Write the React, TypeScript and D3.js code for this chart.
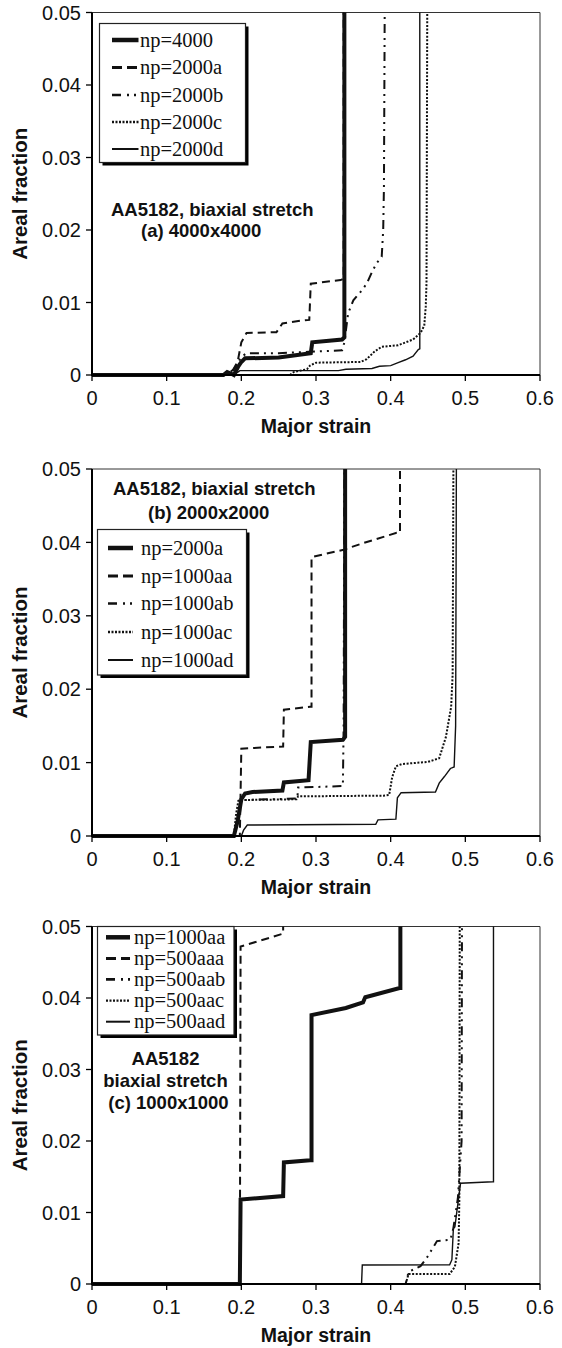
import React from "react";
import * as d3 from "d3";

type Pt = [number, number];

// ---------- tick values ----------
const X_TICKS = [0, 0.1, 0.2, 0.3, 0.4, 0.5, 0.6];
const Y_TICKS = [0, 0.01, 0.02, 0.03, 0.04, 0.05];
const X_TITLE = "Major strain";
const Y_TITLE = "Areal fraction";

// ---------- panel (a) 4000x4000 ----------
const A_LABELS = ["np=4000", "np=2000a", "np=2000b", "np=2000c", "np=2000d"];
const A_NOTE = ["AA5182, biaxial stretch", "(a) 4000x4000"];
const A_NP4000: Pt[] = [[0, 0], [0.176, 0], [0.181, 0.0004], [0.186, 0.0002], [0.19, 0], [0.196, 0.0012], [0.2, 0.0018], [0.205, 0.0023], [0.25, 0.0024], [0.27, 0.0027], [0.293, 0.003], [0.295, 0.0045], [0.335, 0.0049], [0.338, 0.0052], [0.338, 0.05]];
const A_NP2000A: Pt[] = [[0, 0], [0.185, 0], [0.195, 0.0018], [0.2, 0.0045], [0.207, 0.0058], [0.247, 0.0059], [0.255, 0.0071], [0.28, 0.0075], [0.291, 0.0076], [0.293, 0.0126], [0.333, 0.0131], [0.337, 0.0133], [0.337, 0.05]];
const A_NP2000B: Pt[] = [[0, 0], [0.18, 0], [0.19, 0.0008], [0.2, 0.0025], [0.207, 0.003], [0.25, 0.003], [0.29, 0.0032], [0.335, 0.0034], [0.338, 0.0045], [0.343, 0.0085], [0.35, 0.0103], [0.36, 0.0115], [0.368, 0.0126], [0.375, 0.0142], [0.381, 0.0154], [0.388, 0.0163], [0.39, 0.02], [0.391, 0.026], [0.392, 0.05]];
const A_NP2000C: Pt[] = [[0, 0], [0.265, 0], [0.27, 0.0004], [0.288, 0.0008], [0.292, 0.0013], [0.3, 0.0017], [0.36, 0.0018], [0.368, 0.0022], [0.378, 0.0032], [0.388, 0.0039], [0.41, 0.0041], [0.42, 0.0045], [0.43, 0.0049], [0.44, 0.0058], [0.445, 0.0068], [0.447, 0.0095], [0.448, 0.0127], [0.449, 0.05]];
const A_NP2000D: Pt[] = [[0, 0], [0.19, 0], [0.198, 0.0006], [0.33, 0.0006], [0.34, 0.0008], [0.375, 0.0009], [0.385, 0.0012], [0.4, 0.0013], [0.41, 0.0017], [0.42, 0.0021], [0.43, 0.0026], [0.437, 0.0035], [0.439, 0.0036], [0.439, 0.05]];

// ---------- panel (b) 2000x2000 ----------
const B_LABELS = ["np=2000a", "np=1000aa", "np=1000ab", "np=1000ac", "np=1000ad"];
const B_NOTE = ["AA5182, biaxial stretch", "(b) 2000x2000"];
const B_NP2000A: Pt[] = [[0, 0], [0.19, 0], [0.195, 0.002], [0.2, 0.005], [0.205, 0.0058], [0.215, 0.006], [0.255, 0.0062], [0.257, 0.0073], [0.29, 0.0076], [0.293, 0.0128], [0.336, 0.0131], [0.339, 0.0135], [0.339, 0.05]];
const B_NP1000AA: Pt[] = [[0, 0], [0.198, 0], [0.2, 0.0119], [0.256, 0.0122], [0.257, 0.0172], [0.292, 0.0176], [0.294, 0.0176], [0.294, 0.038], [0.337, 0.039], [0.363, 0.0399], [0.408, 0.0413], [0.4125, 0.0413], [0.4125, 0.05]];
const B_NP1000AB: Pt[] = [[0, 0], [0.19, 0], [0.196, 0.003], [0.2, 0.0049], [0.275, 0.0051], [0.276, 0.0066], [0.335, 0.0068], [0.336, 0.0068], [0.337, 0.015], [0.338, 0.05]];
const B_NP1000AC: Pt[] = [[0, 0], [0.19, 0], [0.193, 0.003], [0.196, 0.0048], [0.2, 0.0049], [0.274, 0.005], [0.276, 0.0054], [0.39, 0.0055], [0.398, 0.0056], [0.402, 0.008], [0.407, 0.0095], [0.415, 0.0098], [0.45, 0.0101], [0.465, 0.0106], [0.474, 0.0135], [0.481, 0.0176], [0.483, 0.022], [0.484, 0.05]];
const B_NP1000AD: Pt[] = [[0, 0], [0.2, 0], [0.203, 0.0008], [0.208, 0.0015], [0.38, 0.0016], [0.383, 0.0022], [0.407, 0.0023], [0.409, 0.0052], [0.414, 0.0059], [0.46, 0.006], [0.465, 0.0072], [0.472, 0.0081], [0.48, 0.0092], [0.485, 0.0094], [0.487, 0.015], [0.488, 0.05]];

// ---------- panel (c) 1000x1000 ----------
const C_LABELS = ["np=1000aa", "np=500aaa", "np=500aab", "np=500aac", "np=500aad"];
const C_NOTE = ["AA5182", "biaxial stretch", "(c) 1000x1000"];
const C_NP1000AA: Pt[] = [[0, 0], [0.198, 0], [0.199, 0.0118], [0.256, 0.0123], [0.257, 0.017], [0.292, 0.0173], [0.294, 0.0173], [0.294, 0.0376], [0.34, 0.0386], [0.363, 0.0394], [0.366, 0.0401], [0.412, 0.0414], [0.413, 0.0414], [0.413, 0.05]];
const C_NP500AAA: Pt[] = [[0, 0], [0.198, 0], [0.199, 0.0472], [0.256, 0.049], [0.256, 0.05]];
const C_NP500AAB: Pt[] = [[0, 0], [0.42, 0], [0.424, 0.0017], [0.44, 0.0025], [0.448, 0.0036], [0.455, 0.0048], [0.462, 0.006], [0.48, 0.0062], [0.484, 0.0078], [0.49, 0.012], [0.495, 0.02], [0.4955, 0.05]];
const C_NP500AAC: Pt[] = [[0, 0], [0.42, 0], [0.424, 0.0014], [0.479, 0.0014], [0.486, 0.0024], [0.491, 0.0057], [0.492, 0.012], [0.4925, 0.05]];
const C_NP500AAD: Pt[] = [[0, 0], [0.361, 0], [0.362, 0.00265], [0.479, 0.0027], [0.482, 0.0034], [0.484, 0.0078], [0.486, 0.008], [0.4936, 0.0141], [0.5368, 0.0143], [0.5377, 0.0143], [0.5377, 0.05]];

// ---------- styles ----------
type Sty = { w: number; dash?: string; lw: number; ldash?: string };
const STYLES: Sty[] = [
  { w: 4, lw: 4.5 },
  { w: 2, dash: "8,5", lw: 3, ldash: "10,5" },
  { w: 2, dash: "9,5,2,5,2,5", lw: 2.6, ldash: "9,6,2,5,2,5" },
  { w: 2, dash: "2,1.6", lw: 2.4, ldash: "2,1.5" },
  { w: 1.4, lw: 2 },
];

const SANS = "'Liberation Sans', Arial, Helvetica, sans-serif";
const SERIF = "'Liberation Serif', 'Times New Roman', serif";

type Panel = {
  top: number;
  bottom: number;
  series: Pt[][];
  labels: string[];
  note: string[];
  noteX: number[];
  noteY: number[];
  noteAnchor: "start" | "middle";
  legend: { x0: number; x1: number; y0: number; y1: number; rows: number[]; s0: number; s1: number; tx: number };
};

const LEFT = 92;
const RIGHT = 540;

const PANELS: Panel[] = [
  {
    top: 12.5, bottom: 375,
    series: [A_NP4000, A_NP2000A, A_NP2000B, A_NP2000C, A_NP2000D],
    labels: A_LABELS, note: A_NOTE,
    noteX: [111, 141], noteY: [209, 230], noteAnchor: "start",
    legend: { x0: 99.5, x1: 245.5, y0: 23.5, y1: 162.5, rows: [40, 67.5, 95, 122, 149], s0: 112, s1: 138.5, tx: 140 },
  },
  {
    top: 469, bottom: 836,
    series: [B_NP2000A, B_NP1000AA, B_NP1000AB, B_NP1000AC, B_NP1000AD],
    labels: B_LABELS, note: B_NOTE,
    noteX: [113, 148], noteY: [488.5, 512.5], noteAnchor: "start",
    legend: { x0: 97.5, x1: 246.5, y0: 529.5, y1: 675, rows: [548, 576, 603.5, 632, 660], s0: 108, s1: 133, tx: 141 },
  },
  {
    top: 926.5, bottom: 1284,
    series: [C_NP1000AA, C_NP500AAA, C_NP500AAB, C_NP500AAC, C_NP500AAD],
    labels: C_LABELS, note: C_NOTE,
    noteX: [165.5, 165.5, 108.3], noteY: [1058.3, 1080.7, 1102.7], noteAnchor: "middle",
    legend: { x0: 97.5, x1: 234, y0: 926.5, y1: 1035, rows: [937.3, 958.4, 979.4, 1000.6, 1021.7], s0: 106, s1: 130, tx: 134 },
  },
];

const fmt = (v: number) => String(+v.toFixed(2));

function PanelView({ p }: { p: Panel }) {
  const x = d3.scaleLinear().domain([0, 0.6]).range([LEFT, RIGHT]);
  const y = d3.scaleLinear().domain([0, 0.05]).range([p.bottom, p.top]);
  const line = d3.line<Pt>().x((d) => x(d[0])).y((d) => y(d[1]));
  const lg = p.legend;
  return (
    <g>
      {/* frame */}
      <line x1={LEFT} x2={RIGHT} y1={p.top} y2={p.top} stroke="#333" strokeWidth={1} />
      <line x1={RIGHT} x2={RIGHT} y1={p.top} y2={p.bottom} stroke="#333" strokeWidth={1} />
      {/* curves (drawn in reverse so thick line on top) */}
      {p.series.map((s, i) => ({ s, i })).reverse().map(({ s, i }) => (
        <path key={i} d={line(s) || ""} fill="none" stroke="#111" strokeWidth={STYLES[i].w}
          strokeDasharray={STYLES[i].dash} strokeLinejoin="miter" strokeLinecap="butt" />
      ))}
      {/* axes */}
      <line x1={LEFT} x2={LEFT} y1={p.top} y2={p.bottom + 1} stroke="#000" strokeWidth={2} />
      <line x1={LEFT - 1} x2={RIGHT} y1={p.bottom} y2={p.bottom} stroke="#000" strokeWidth={2} />
      {Y_TICKS.map((t) => (
        <g key={"y" + t}>
          <line x1={LEFT - 6} x2={LEFT} y1={y(t)} y2={y(t)} stroke="#000" strokeWidth={1.3} />
          <text x={LEFT - 11} y={y(t)} dy="0.36em" textAnchor="end" fontFamily={SANS} fontSize={20} fill="#111">{fmt(t)}</text>
        </g>
      ))}
      {X_TICKS.map((t) => (
        <g key={"x" + t}>
          <line x1={x(t)} x2={x(t)} y1={p.bottom} y2={p.bottom + 6} stroke="#000" strokeWidth={1.3} />
          <text x={x(t)} y={p.bottom + 23} dy="0.36em" textAnchor="middle" fontFamily={SANS} fontSize={20} fill="#111">{fmt(t)}</text>
        </g>
      ))}
      <text x={(LEFT + RIGHT) / 2} y={p.bottom + 51} dy="0.36em" textAnchor="middle" fontFamily={SANS} fontWeight="bold" fontSize={19.5} fill="#111">{X_TITLE}</text>
      <text transform={`translate(19.5,${(p.top + p.bottom) / 2}) rotate(-90)`} dy="0.36em" textAnchor="middle" fontFamily={SANS} fontWeight="bold" fontSize={20.5} fill="#111">{Y_TITLE}</text>
      {/* annotation */}
      {p.note.map((t, i) => (
        <text key={"n" + i} x={p.noteX[i]} y={p.noteY[i]} dy="0.36em" textAnchor={p.noteAnchor === "middle" && i < 2 ? "middle" : "start"}
          fontFamily={SANS} fontWeight="bold" fontSize={18.5} fill="#111">{t}</text>
      ))}
      {/* legend */}
      <rect x={lg.x0 + 3} y={lg.y0 + 3} width={lg.x1 - lg.x0} height={lg.y1 - lg.y0} fill="#000" />
      <rect x={lg.x0} y={lg.y0} width={lg.x1 - lg.x0} height={lg.y1 - lg.y0} fill="#fff" stroke="#222" strokeWidth={1.2} />
      {p.labels.map((lab, i) => (
        <g key={"l" + i}>
          <line x1={lg.s0} x2={lg.s1} y1={lg.rows[i]} y2={lg.rows[i]} stroke="#111" strokeWidth={STYLES[i].lw} strokeDasharray={STYLES[i].ldash} />
          <text x={lg.tx} y={lg.rows[i]} dy="0.33em" fontFamily={SERIF} fontSize={20.5} fill="#111">{lab}</text>
        </g>
      ))}
    </g>
  );
}

export default function App() {
  return (
    <svg width={562} height={1348} style={{ position: "absolute", left: 0, top: 0, background: "#fff" }}>
      <rect width={562} height={1348} fill="#fff" />
      {PANELS.map((p, i) => <PanelView key={i} p={p} />)}
    </svg>
  );
}
